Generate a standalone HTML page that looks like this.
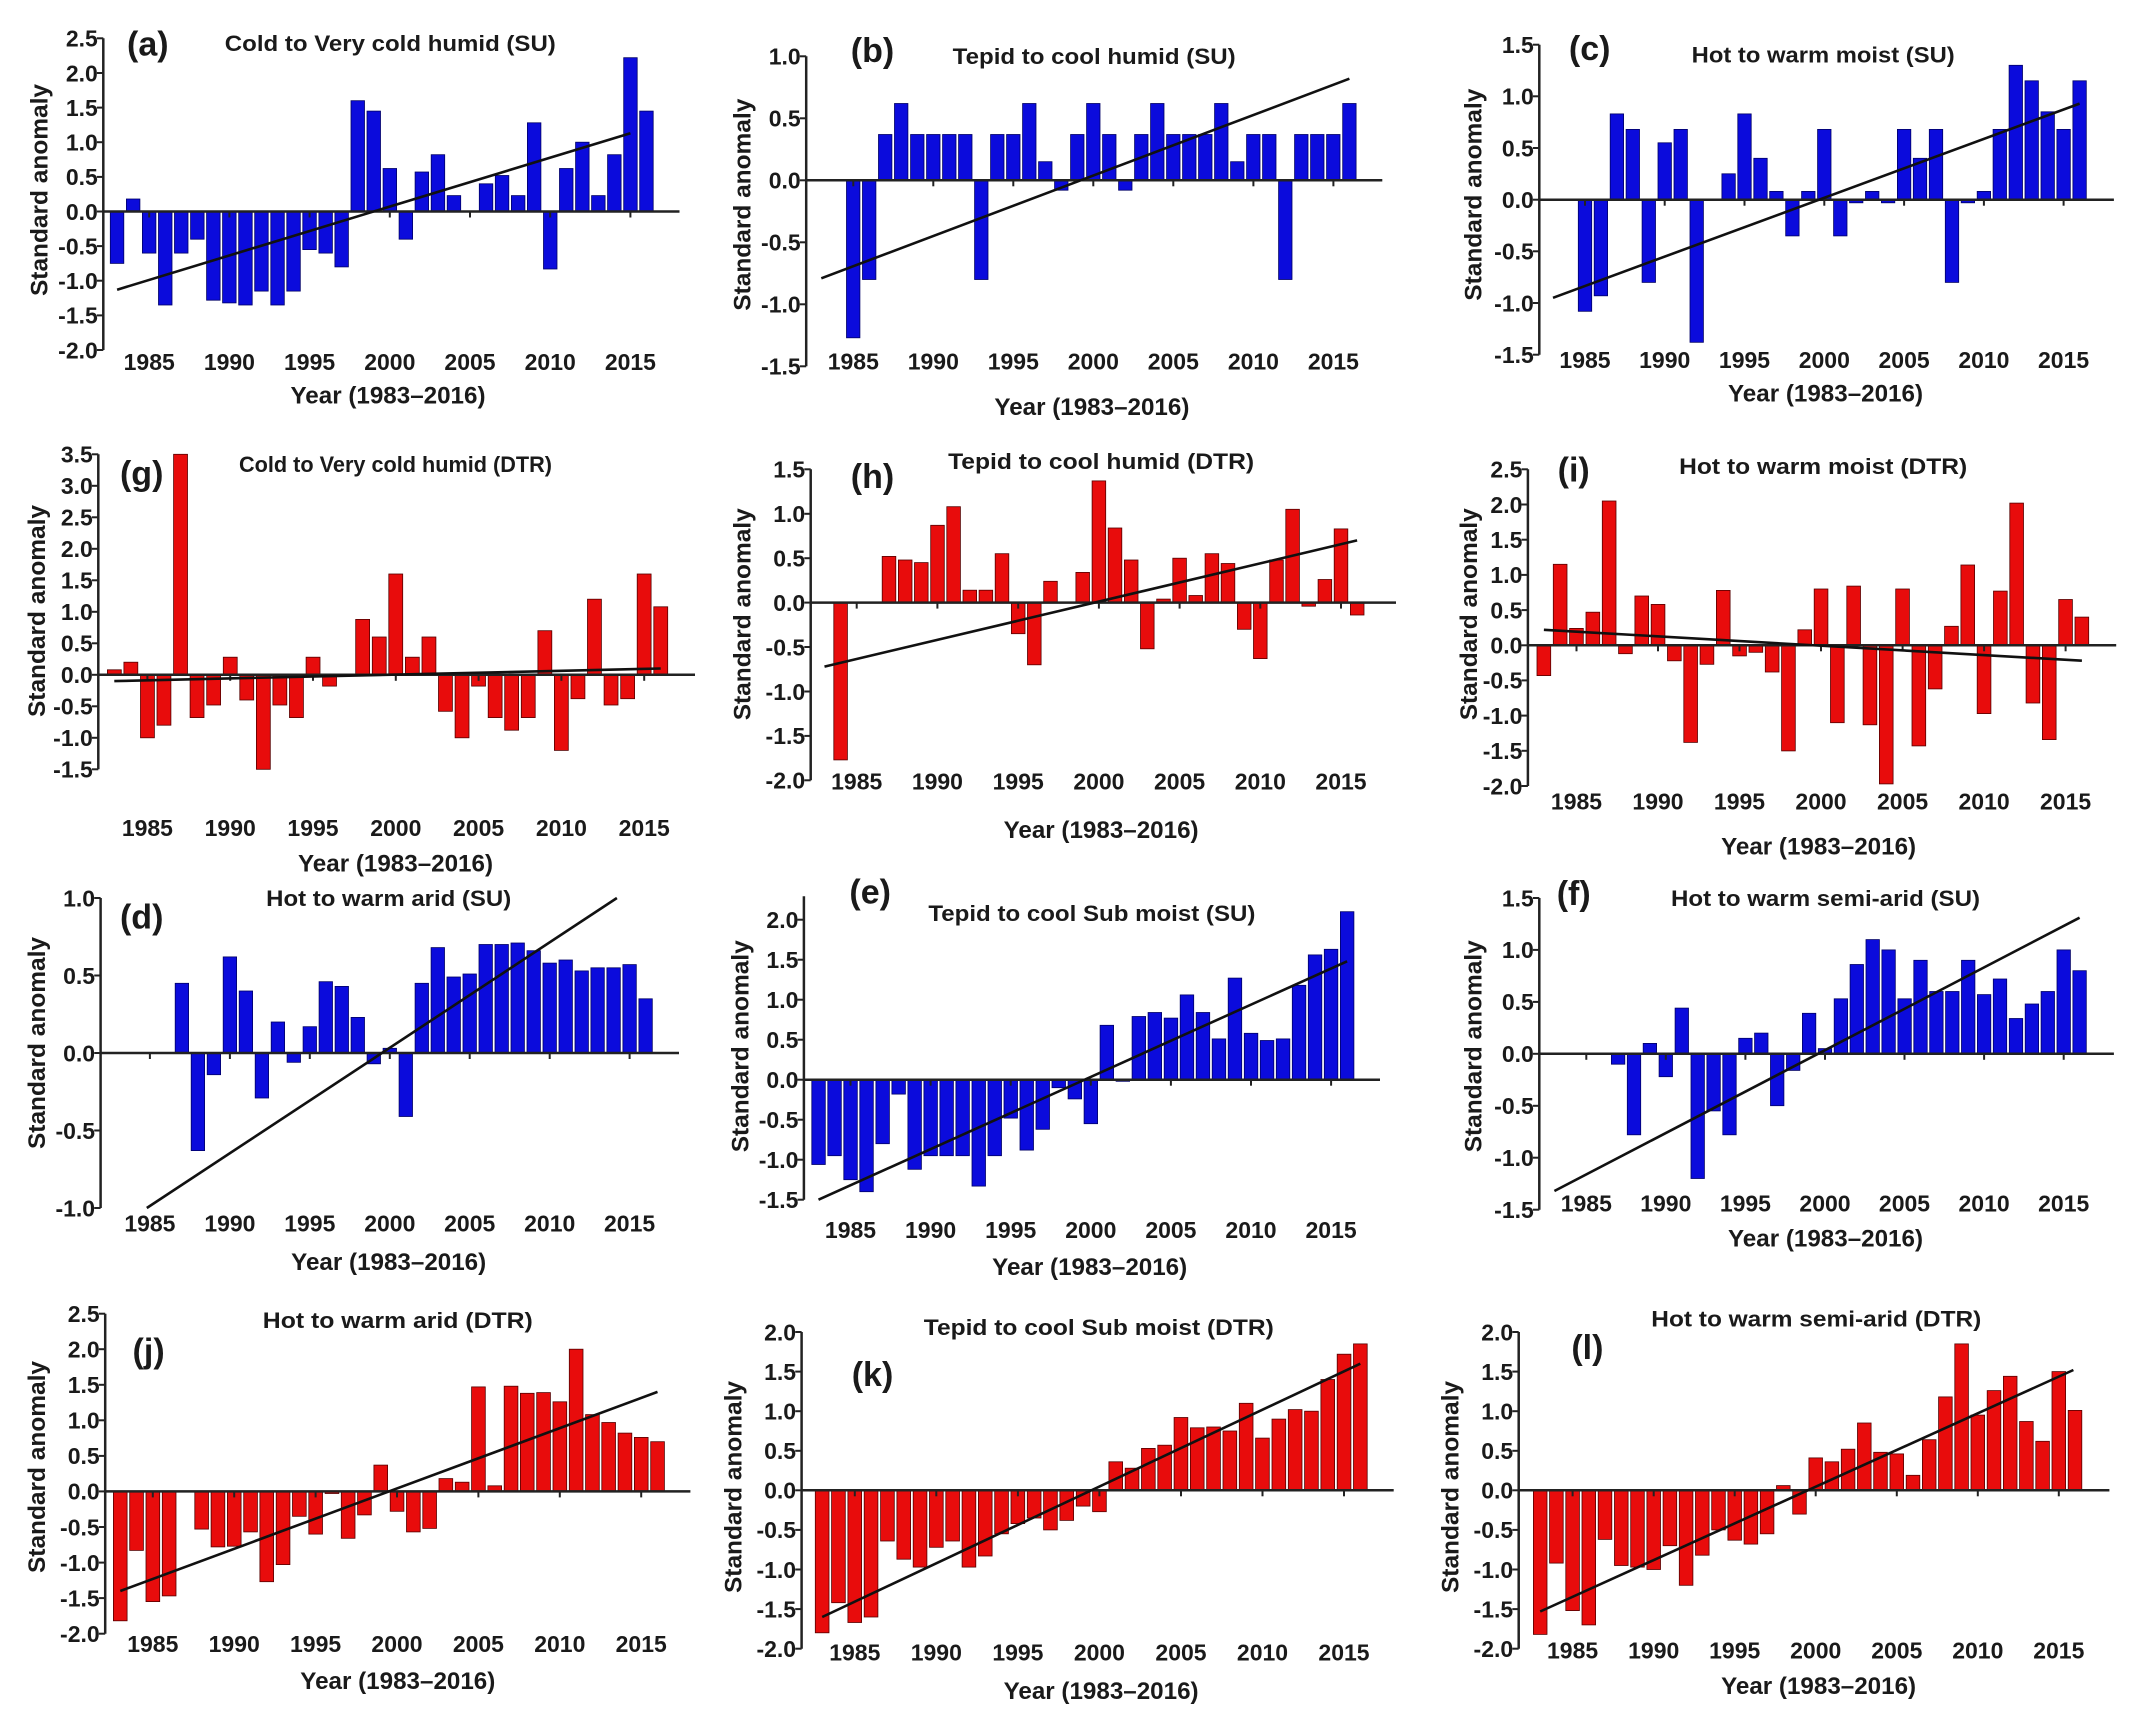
<!DOCTYPE html>
<html><head><meta charset="utf-8"><style>
html,body{margin:0;padding:0;background:#fff;overflow:hidden;}
svg{display:block;}
text{font-family:"Liberation Sans",Arial,sans-serif;fill:#1a1a1a;}
</style></head><body>
<svg id="s" xmlns="http://www.w3.org/2000/svg" width="2152" height="1718" viewBox="0 0 2152 1718"></svg>
<script>
const P=[
{ox:0,oy:0,f:2.178,ax:225,yt:115,vt:2.5,yb:1050,vb:-2,x83:255,x16:1408,xe:1480,yy:1085,xl:[845,1185],yl:[85,570],ti:[850,130,722],tt:"Cold to Very cold humid (SU)",le:[322,130],lt:"(a)",tr:[1983,-1.13,2015,1.13],c:"b",
d:[-.75,.18,-.6,-1.35,-.6,-.4,-1.28,-1.32,-1.35,-1.15,-1.35,-1.15,-.55,-.6,-.8,1.6,1.45,.62,-.4,.57,.82,.23,0,.4,.52,.23,1.28,-.83,.62,1.0,.23,.82,2.22,1.45]},
{ox:717,oy:28,f:2.187,ax:195,yt:85,vt:1,yb:1015,vb:-1.5,x83:228,x16:1383,xe:1455,yy:1000,xl:[820,1135],yl:[55,530],ti:[825,85,620],tt:"Tepid to cool humid (SU)",le:[340,65],lt:"(b)",tr:[1983,-.79,2016,.82],c:"b",
d:[0,0,-1.27,-.8,.37,.62,.37,.37,.37,.37,-.8,.37,.37,.62,.15,-.08,.37,.62,.37,-.08,.37,.62,.37,.37,.37,.62,.15,.37,.37,-.8,.37,.37,.37,.62]},
{ox:1434,oy:28,f:2.184,ax:230,yt:50,vt:1.5,yb:980,vb:-1.5,x83:260,x16:1410,xe:1485,yy:995,xl:[855,1095],yl:[85,500],ti:[850,80,575],tt:"Hot to warm moist (SU)",le:[340,60],lt:"(c)",tr:[1983,-.95,2016,.93],c:"b",
d:[0,0,-1.08,-.93,.83,.68,-.8,.55,.68,-1.38,0,.25,.83,.4,.08,-.35,.08,.68,-.35,-.03,.08,-.03,.68,.4,.68,-.8,-.03,.08,.68,1.3,1.15,.85,.68,1.15]},
{ox:0,oy:441,f:2.187,ax:215,yt:40,vt:3.5,yb:985,vb:-1.5,x83:250,x16:1445,xe:1520,yy:1160,xl:[865,1265],yl:[80,510],ti:[865,70,685],tt:"Cold to Very cold humid (DTR)",le:[310,95],lt:"(g)",tr:[1983,-.1,2016,.1],c:"r",
d:[.08,.2,-1.0,-.8,3.5,-.68,-.48,.28,-.4,-1.5,-.48,-.68,.28,-.18,0,.88,.6,1.6,.28,.6,-.58,-1.0,-.18,-.68,-.88,-.68,.7,-1.2,-.38,1.2,-.48,-.38,1.6,1.08]},
{ox:717,oy:441,f:2.187,ax:205,yt:85,vt:1.5,yb:1018,vb:-2,x83:235,x16:1400,xe:1485,yy:1020,xl:[840,1165],yl:[55,520],ti:[840,60,670],tt:"Tepid to cool humid (DTR)",le:[340,105],lt:"(h)",tr:[1983,-.72,2016,.7],c:"r",
d:[0,-1.77,0,0,.52,.48,.45,.87,1.08,.14,.14,.55,-.35,-.7,.24,0,.34,1.37,.84,.48,-.52,.04,.5,.08,.55,.44,-.3,-.63,.48,1.05,-.04,.26,.83,-.14]},
{ox:1434,oy:441,f:2.184,ax:205,yt:85,vt:2.5,yb:1035,vb:-2,x83:240,x16:1415,xe:1490,yy:1080,xl:[840,1215],yl:[75,520],ti:[850,75,630],tt:"Hot to warm moist (DTR)",le:[305,85],lt:"(i)",tr:[1983,.22,2016,-.22],c:"r",
d:[-.43,1.15,.24,.47,2.05,-.12,.7,.58,-.22,-1.38,-.27,.78,-.15,-.1,-.38,-1.5,.22,.8,-1.1,.84,-1.13,-1.97,.8,-1.43,-.62,.27,1.14,-.97,.77,2.02,-.82,-1.34,.65,.4]},
{ox:0,oy:883,f:2.187,ax:220,yt:45,vt:1,yb:975,vb:-1,x83:258,x16:1412,xe:1485,yy:1020,xl:[850,1135],yl:[80,480],ti:[850,45,535],tt:"Hot to warm arid (SU)",le:[310,100],lt:"(d)",tr:[1984.8,-1.0,2014.2,1.0],c:"b",
d:[0,0,0,0,.45,-.63,-.14,.62,.4,-.29,.2,-.06,.17,.46,.43,.23,-.07,.03,-.41,.45,.68,.49,.51,.7,.7,.71,.66,.58,.6,.53,.55,.55,.57,.35]},
{ox:717,oy:883,f:2.187,ax:190,yt:110,vt:2,yb:950,vb:-1.5,at:40,x83:222,x16:1378,xe:1450,yy:1040,xl:[815,1150],yl:[50,490],ti:[820,90,715],tt:"Tepid to cool Sub moist (SU)",le:[335,25],lt:"(e)",tr:[1983,-1.5,2016,1.48],c:"b",
d:[-1.06,-.95,-1.25,-1.4,-.8,-.18,-1.12,-.95,-.95,-.95,-1.33,-.95,-.48,-.88,-.62,-.1,-.24,-.55,.68,-.02,.79,.84,.77,1.06,.84,.51,1.27,.58,.49,.51,1.18,1.56,1.63,2.1]},
{ox:1434,oy:883,f:2.184,ax:230,yt:45,vt:1.5,yb:980,vb:-1.5,x83:263,x16:1410,xe:1485,yy:960,xl:[855,1065],yl:[85,490],ti:[855,45,675],tt:"Hot to warm semi-arid (SU)",le:[305,30],lt:"(f)",tr:[1983,-1.32,2016,1.31],c:"b",
d:[0,0,0,0,-.1,-.78,.1,-.22,.44,-1.2,-.55,-.78,.15,.2,-.5,-.16,.39,.05,.53,.86,1.1,1.0,.53,.9,.6,.6,.9,.57,.72,.34,.48,.6,1.0,.8]},
{ox:0,oy:1297,f:2.187,ax:230,yt:50,vt:2.5,yb:1010,vb:-2,x83:263,x16:1438,xe:1510,yy:1040,xl:[870,1150],yl:[80,510],ti:[870,70,590],tt:"Hot to warm arid (DTR)",le:[325,160],lt:"(j)",tr:[1983,-1.4,2016,1.4],c:"r",
d:[-1.82,-.83,-1.55,-1.47,0,-.53,-.78,-.77,-.57,-1.27,-1.03,-.35,-.6,-.03,-.66,-.33,.37,-.28,-.57,-.52,.18,.13,1.47,.08,1.48,1.38,1.39,1.26,2.0,1.08,.97,.82,.76,.7]},
{ox:717,oy:1297,f:2.187,ax:185,yt:105,vt:2,yb:1055,vb:-2,x83:230,x16:1407,xe:1480,yy:1065,xl:[840,1180],yl:[35,570],ti:[835,90,765],tt:"Tepid to cool Sub moist (DTR)",le:[340,230],lt:"(k)",tr:[1983,-1.6,2016,1.6],c:"r",
d:[-1.8,-1.42,-1.67,-1.6,-.64,-.87,-.97,-.72,-.64,-.97,-.83,-.55,-.42,-.35,-.5,-.38,-.2,-.27,.36,.28,.53,.57,.92,.79,.8,.75,1.1,.66,.9,1.02,1.0,1.4,1.72,1.85]},
{ox:1434,oy:1297,f:2.184,ax:185,yt:105,vt:2,yb:1055,vb:-2,x83:232,x16:1400,xe:1475,yy:1060,xl:[840,1165],yl:[35,570],ti:[835,65,720],tt:"Hot to warm semi-arid (DTR)",le:[335,150],lt:"(l)",tr:[1983,-1.53,2015.9,1.52],c:"r",
d:[-1.82,-.92,-1.52,-1.7,-.62,-.95,-.97,-1.0,-.7,-1.2,-.82,-.5,-.63,-.68,-.55,.06,-.3,.41,.36,.52,.85,.48,.46,.19,.64,1.18,1.85,.95,1.26,1.44,.87,.62,1.5,1.01]}
];
const FY=3;
let h="";
for(const p of P){
  const X=z=>(p.ox+z/p.f).toFixed(1), Y=z=>(p.oy+z/FY).toFixed(1);
  const st=(p.x16-p.x83)/33;
  const xp=yr=>p.x83+(yr-1983)*st;
  const yp=v=>p.yt+(p.vt-v)*(p.yb-p.yt)/(p.vt-p.vb);
  const z0=yp(0);
  const bw=st*0.84;
  const fill=p.c=="b"?"#0b0bdc":"#e80c0c", stroke=p.c=="b"?"#000066":"#550000";
  p.d.forEach((v,i)=>{ if(v===0) return;
    const cx=xp(1983+i), y1=yp(v);
    const top=Math.min(y1,z0), hh=Math.abs(y1-z0);
    h+=`<rect x="${X(cx-bw/2)}" y="${Y(top)}" width="${(bw/p.f).toFixed(1)}" height="${(hh/FY).toFixed(1)}" fill="${fill}" stroke="${stroke}" stroke-width="0.8"/>`;
  });
  const at=p.at!==undefined?p.at:p.yt;
  h+=`<line x1="${X(p.ax)}" y1="${Y(at)}" x2="${X(p.ax)}" y2="${Y(p.yb)}" stroke="#222" stroke-width="2.5"/>`;
  h+=`<line x1="${X(p.ax)}" y1="${Y(z0)}" x2="${X(p.xe)}" y2="${Y(z0)}" stroke="#222" stroke-width="2.5"/>`;
  for(let v=p.vb; v<=p.vt+1e-6; v+=0.5){
    const yy=yp(v);
    h+=`<line x1="${X(p.ax-14)}" y1="${Y(yy)}" x2="${X(p.ax)}" y2="${Y(yy)}" stroke="#222" stroke-width="2"/>`;
    const s=(Math.abs(v)<1e-6?0:v).toFixed(1);
    h+=`<text x="${X(p.ax-12)}" y="${Y(yy)}" dy="0.36em" text-anchor="end" font-size="23" font-weight="bold">${s}</text>`;
  }
  for(let yr=1985; yr<=2015; yr+=5){
    const xx=xp(yr);
    h+=`<line x1="${X(xx)}" y1="${Y(z0)}" x2="${X(xx)}" y2="${Y(z0+18)}" stroke="#222" stroke-width="2"/>`;
    h+=`<text x="${X(xx)}" y="${Y(p.yy)}" dy="0.36em" text-anchor="middle" font-size="23" font-weight="bold">${yr}</text>`;
  }
  const t=p.tr;
  h+=`<line x1="${X(xp(t[0]))}" y1="${Y(yp(t[1]))}" x2="${X(xp(t[2]))}" y2="${Y(yp(t[3]))}" stroke="#111" stroke-width="2.6"/>`;
  h+=`<text x="${X(p.xl[0])}" y="${Y(p.xl[1])}" dy="0.36em" text-anchor="middle" font-size="24" font-weight="bold" textLength="195" lengthAdjust="spacingAndGlyphs">Year (1983–2016)</text>`;
  h+=`<text transform="translate(${X(p.yl[0])},${Y(p.yl[1])}) rotate(-90)" dy="0.36em" text-anchor="middle" font-size="24" font-weight="bold" textLength="212" lengthAdjust="spacingAndGlyphs">Standard anomaly</text>`;
  h+=`<text x="${X(p.ti[0])}" y="${Y(p.ti[1])}" dy="0.36em" text-anchor="middle" font-size="22" font-weight="bold" textLength="${(p.ti[2]/p.f).toFixed(0)}" lengthAdjust="spacingAndGlyphs">${p.tt}</text>`;
  h+=`<text x="${X(p.le[0])}" y="${Y(p.le[1])}" dy="0.36em" text-anchor="middle" font-size="34" font-weight="bold">${p.lt}</text>`;
}
document.getElementById("s").innerHTML=h;
</script>
</body></html>
